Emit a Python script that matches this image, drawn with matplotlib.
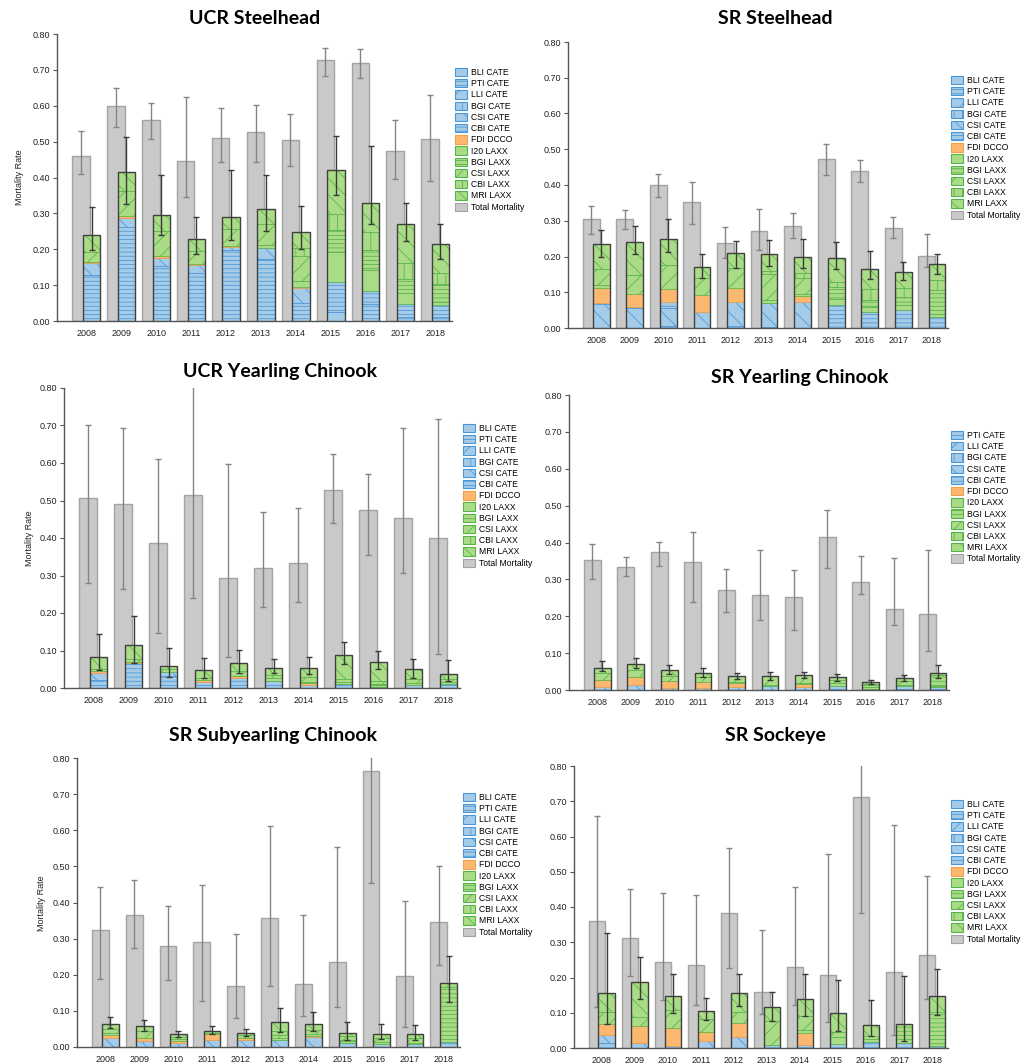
import numpy as np
import matplotlib
matplotlib.use('Agg')
import matplotlib.pyplot as plt
from matplotlib.patches import Patch

plt.rcParams['font.family'] = ['Liberation Sans', 'DejaVu Sans']
plt.rcParams['hatch.linewidth'] = 0.55

W, H = 1022, 1064

years = ['2008', '2009', '2010', '2011', '2012', '2013', '2014', '2015', '2016', '2017', '2018']

# predator / location categories, stacked bottom to top
categories = ['BLI CATE', 'PTI CATE', 'LLI CATE', 'BGI CATE', 'CSI CATE', 'CBI CATE',
              'FDI DCCO', 'I20 LAXX', 'BGI LAXX', 'CSI LAXX', 'CBI LAXX', 'MRI LAXX']

# ---------------- UCR Steelhead ----------------
ucr_sth_total = [0.461, 0.599, 0.559, 0.446, 0.509, 0.526, 0.504, 0.727, 0.720, 0.473, 0.507]
ucr_sth_total_lo = [0.411, 0.542, 0.507, 0.346, 0.442, 0.443, 0.431, 0.684, 0.676, 0.397, 0.390]
ucr_sth_total_hi = [0.530, 0.649, 0.608, 0.623, 0.593, 0.603, 0.578, 0.760, 0.759, 0.559, 0.630]
ucr_sth_parts = {
    'BLI CATE': [0, 0, 0, 0, 0, 0, 0, 0.026, 0, 0, 0],
    'PTI CATE': [0.128, 0.263, 0.153, 0.133, 0.198, 0.173, 0.049, 0.084, 0.046, 0.012, 0.012],
    'CSI CATE': [0.033, 0.023, 0.022, 0.023, 0.007, 0.030, 0.042, 0, 0, 0, 0],
    'CBI CATE': [0, 0, 0, 0, 0, 0, 0, 0, 0.039, 0.035, 0.033],
    'FDI DCCO': [0.004, 0.007, 0.005, 0.004, 0.005, 0, 0.005, 0, 0, 0, 0],
    'I20 LAXX': [0, 0, 0, 0, 0, 0.009, 0.016, 0.081, 0.057, 0.030, 0.009],
    'BGI LAXX': [0, 0, 0, 0, 0, 0, 0, 0.064, 0.056, 0.039, 0.048],
    'CSI LAXX': [0.028, 0.070, 0.071, 0.035, 0.046, 0.059, 0.068, 0, 0, 0, 0],
    'CBI LAXX': [0, 0, 0, 0, 0, 0, 0.024, 0.043, 0.051, 0.045, 0.031],
    'MRI LAXX': [0.048, 0.053, 0.044, 0.034, 0.033, 0.042, 0.044, 0.123, 0.081, 0.109, 0.082],
}
ucr_sth_comp_lo = [0.199, 0.325, 0.241, 0.186, 0.225, 0.251, 0.202, 0.351, 0.270, 0.222, 0.174]
ucr_sth_comp_hi = [0.318, 0.513, 0.407, 0.291, 0.420, 0.407, 0.321, 0.517, 0.488, 0.330, 0.270]

# ---------------- SR Steelhead ----------------
sr_sth_total = [0.306, 0.304, 0.399, 0.353, 0.238, 0.270, 0.286, 0.472, 0.440, 0.279, 0.202]
sr_sth_total_lo = [0.264, 0.276, 0.367, 0.290, 0.197, 0.217, 0.253, 0.427, 0.407, 0.252, 0.171]
sr_sth_total_hi = [0.342, 0.330, 0.432, 0.408, 0.282, 0.334, 0.323, 0.514, 0.470, 0.311, 0.264]
sr_sth_parts = {
    'PTI CATE': [0, 0, 0.005, 0, 0.005, 0.003, 0, 0.064, 0.046, 0.050, 0.030],
    'CSI CATE': [0.067, 0.055, 0.052, 0.046, 0.069, 0.066, 0.074, 0, 0, 0, 0],
    'CBI CATE': [0.004, 0.004, 0.017, 0, 0, 0, 0, 0, 0, 0, 0],
    'FDI DCCO': [0.042, 0.037, 0.034, 0.047, 0.037, 0, 0.016, 0, 0, 0, 0],
    'I20 LAXX': [0.007, 0, 0, 0, 0, 0.008, 0.005, 0.017, 0.012, 0.014, 0.009],
    'BGI LAXX': [0, 0, 0, 0, 0, 0, 0, 0.033, 0.021, 0.023, 0.068],
    'CSI LAXX': [0.044, 0.051, 0.068, 0.047, 0.058, 0.074, 0.044, 0, 0, 0, 0],
    'CBI LAXX': [0, 0, 0, 0, 0, 0.009, 0.016, 0.016, 0.031, 0.025, 0.028],
    'MRI LAXX': [0.071, 0.094, 0.074, 0.030, 0.041, 0.047, 0.044, 0.065, 0.054, 0.045, 0.044],
}
sr_sth_comp_lo = [0.198, 0.206, 0.212, 0.141, 0.169, 0.174, 0.169, 0.165, 0.136, 0.134, 0.150]
sr_sth_comp_hi = [0.274, 0.286, 0.306, 0.207, 0.244, 0.246, 0.249, 0.241, 0.216, 0.185, 0.208]

# ---------------- UCR Yearling Chinook ----------------
ucr_chy_total = [0.506, 0.492, 0.388, 0.514, 0.294, 0.319, 0.334, 0.529, 0.474, 0.454, 0.399]
ucr_chy_total_lo = [0.279, 0.263, 0.148, 0.241, 0.084, 0.216, 0.229, 0.441, 0.355, 0.307, 0.090]
ucr_chy_total_hi = [0.702, 0.694, 0.610, 0.850, 0.598, 0.469, 0.481, 0.623, 0.570, 0.693, 0.718]
ucr_chy_parts = {
    'PTI CATE': [0.022, 0.066, 0.032, 0.016, 0.027, 0.020, 0.009, 0.012, 0.004, 0.008, 0.012],
    'CSI CATE': [0.018, 0, 0.010, 0, 0, 0, 0, 0, 0, 0, 0],
    'FDI DCCO': [0.006, 0.003, 0, 0.005, 0.004, 0, 0.004, 0, 0, 0, 0],
    'I20 LAXX': [0.006, 0, 0, 0, 0, 0.006, 0.004, 0.004, 0.004, 0.005, 0.004],
    'BGI LAXX': [0, 0, 0, 0, 0, 0, 0, 0, 0.004, 0, 0],
    'CSI LAXX': [0, 0.009, 0.008, 0.007, 0.014, 0.009, 0.013, 0.008, 0.006, 0.011, 0.008],
    'MRI LAXX': [0.030, 0.037, 0.008, 0.019, 0.021, 0.019, 0.024, 0.063, 0.052, 0.026, 0.013],
}
ucr_chy_comp_lo = [0.049, 0.067, 0.029, 0.026, 0.040, 0.040, 0.037, 0.063, 0.051, 0.028, 0.020]
ucr_chy_comp_hi = [0.144, 0.191, 0.107, 0.079, 0.102, 0.077, 0.082, 0.124, 0.100, 0.078, 0.075]

# ---------------- SR Yearling Chinook ----------------
sr_chy_total = [0.352, 0.333, 0.374, 0.348, 0.272, 0.257, 0.252, 0.415, 0.294, 0.221, 0.205]
sr_chy_total_lo = [0.300, 0.309, 0.337, 0.240, 0.211, 0.189, 0.163, 0.331, 0.259, 0.175, 0.106]
sr_chy_total_hi = [0.396, 0.361, 0.402, 0.429, 0.329, 0.379, 0.325, 0.489, 0.363, 0.358, 0.380]
sr_chy_parts = {
    'PTI CATE': [0, 0, 0, 0, 0, 0, 0, 0.012, 0.003, 0.010, 0.007],
    'CSI CATE': [0.007, 0.014, 0.006, 0.006, 0.008, 0.010, 0.008, 0, 0, 0, 0],
    'FDI DCCO': [0.021, 0.020, 0.018, 0.015, 0.010, 0, 0.007, 0, 0, 0, 0],
    'I20 LAXX': [0, 0, 0, 0, 0.004, 0.004, 0.004, 0.006, 0.004, 0.004, 0.003],
    'BGI LAXX': [0, 0, 0, 0, 0, 0, 0, 0, 0.010, 0, 0.030],
    'CSI LAXX': [0.017, 0.019, 0.015, 0.013, 0.016, 0.025, 0.023, 0.008, 0.004, 0.011, 0.007],
    'MRI LAXX': [0.016, 0.018, 0.014, 0.013, 0, 0, 0, 0.008, 0, 0.008, 0],
}
sr_chy_comp_lo = [0.052, 0.061, 0.043, 0.034, 0.030, 0.027, 0.033, 0.024, 0.017, 0.024, 0.033]
sr_chy_comp_hi = [0.078, 0.087, 0.068, 0.060, 0.047, 0.050, 0.050, 0.044, 0.027, 0.040, 0.067]

# ---------------- SR Subyearling Chinook ----------------
sr_chs_total = [0.324, 0.366, 0.280, 0.290, 0.169, 0.357, 0.175, 0.234, 0.763, 0.196, 0.347]
sr_chs_total_lo = [0.189, 0.274, 0.185, 0.127, 0.080, 0.169, 0.086, 0.112, 0.454, 0.056, 0.226]
sr_chs_total_hi = [0.444, 0.463, 0.391, 0.448, 0.313, 0.611, 0.366, 0.555, 0.850, 0.403, 0.502]
sr_chs_parts = {
    'PTI CATE': [0, 0, 0, 0, 0, 0, 0, 0.012, 0.008, 0.008, 0.013],
    'CSI CATE': [0.026, 0.017, 0.011, 0.020, 0.020, 0.018, 0.027, 0, 0, 0, 0],
    'FDI DCCO': [0.006, 0.007, 0.006, 0.015, 0.004, 0, 0.003, 0, 0, 0, 0],
    'I20 LAXX': [0.007, 0, 0.005, 0, 0, 0.006, 0.005, 0.004, 0.005, 0.004, 0],
    'BGI LAXX': [0, 0, 0, 0, 0, 0, 0, 0.004, 0, 0, 0.152],
    'CSI LAXX': [0.012, 0.019, 0.006, 0.005, 0.008, 0.010, 0.013, 0.010, 0.012, 0.013, 0.013],
    'CBI LAXX': [0, 0, 0, 0, 0, 0.010, 0, 0, 0, 0, 0],
    'MRI LAXX': [0.014, 0.015, 0.007, 0.004, 0.007, 0.024, 0.017, 0.008, 0.012, 0.012, 0],
}
sr_chs_comp_lo = [0.053, 0.044, 0.028, 0.035, 0.031, 0.041, 0.044, 0.020, 0.021, 0.020, 0.124]
sr_chs_comp_hi = [0.083, 0.075, 0.044, 0.057, 0.050, 0.108, 0.097, 0.068, 0.065, 0.062, 0.252]

# ---------------- SR Sockeye ----------------
sr_sock_total = [0.360, 0.311, 0.243, 0.236, 0.382, 0.159, 0.231, 0.207, 0.712, 0.215, 0.264]
sr_sock_total_lo = [0.117, 0.205, 0.137, 0.123, 0.227, 0.096, 0.123, 0.075, 0.384, 0.038, 0.138]
sr_sock_total_hi = [0.658, 0.451, 0.441, 0.433, 0.566, 0.335, 0.458, 0.549, 0.850, 0.633, 0.489]
sr_sock_parts = {
    'PTI CATE': [0.014, 0, 0.007, 0, 0, 0.008, 0.008, 0.012, 0.017, 0.014, 0.006],
    'CSI CATE': [0.022, 0.014, 0, 0.021, 0.031, 0, 0, 0, 0, 0, 0],
    'FDI DCCO': [0.033, 0.049, 0.051, 0.025, 0.040, 0, 0.035, 0, 0, 0, 0],
    'I20 LAXX': [0, 0, 0, 0, 0, 0, 0.007, 0.019, 0.008, 0, 0],
    'BGI LAXX': [0, 0, 0, 0, 0, 0, 0, 0, 0, 0.055, 0.096],
    'CSI LAXX': [0.033, 0.025, 0.049, 0.037, 0.031, 0.069, 0.040, 0.015, 0.010, 0, 0],
    'MRI LAXX': [0.055, 0.100, 0.040, 0.023, 0.055, 0.038, 0.050, 0.052, 0.031, 0, 0.045],
}
sr_sock_comp_lo = [0.069, 0.139, 0.100, 0.079, 0.118, 0.077, 0.090, 0.047, 0.034, 0.019, 0.094]
sr_sock_comp_hi = [0.325, 0.257, 0.211, 0.141, 0.211, 0.159, 0.210, 0.192, 0.136, 0.204, 0.225]

# fill, hatch colour, hatch pattern
blue, blue_h = '#a4cce8', '#4a95d6'
green, green_h = '#aadc88', '#56b244'
styles = {
    'BLI CATE': (blue, blue_h, None),
    'PTI CATE': (blue, blue_h, '----'),
    'LLI CATE': (blue, blue_h, '//'),
    'BGI CATE': (blue, blue_h, '||'),
    'CSI CATE': (blue, blue_h, '\\\\'),
    'CBI CATE': (blue, blue_h, '----'),
    'FDI DCCO': ('#fdb870', '#f0a04a', None),
    'I20 LAXX': (green, green_h, None),
    'BGI LAXX': (green, green_h, '----'),
    'CSI LAXX': (green, green_h, '//'),
    'CBI LAXX': (green, green_h, '||'),
    'MRI LAXX': (green, green_h, '\\\\'),
}
grey, grey_edge = '#c9c9c9', '#a3a3a3'


def px_box(x0, y0, x1, y1):
    # pixel box (left, top, right, bottom) -> figure fraction rect
    return [x0 / W, 1 - y1 / H, (x1 - x0) / W, (y1 - y0) / H]


def draw_panel(ax, total, t_lo, t_hi, parts, c_lo, c_hi):
    x = np.arange(len(years))
    total = np.array(total)
    ax.bar(x - 0.15, total, 0.5, color=grey, edgecolor=grey_edge, lw=1, zorder=1)
    ax.errorbar(x - 0.15, total, yerr=[total - np.array(t_lo), np.array(t_hi) - total],
                fmt='none', ecolor='#858585', elinewidth=1, capsize=2.5, capthick=1, zorder=2)
    bottom = np.zeros(len(x))
    for name in categories:
        if name not in parts:
            continue
        vals = np.array(parts[name])
        face, hcol, hatch = styles[name]
        m = vals > 0
        ax.bar(x[m] + 0.15, vals[m], 0.5, bottom=bottom[m], color=face, edgecolor=hcol,
               hatch=hatch, lw=0.5, zorder=3)
        bottom += vals
    ax.bar(x + 0.15, bottom, 0.5, fill=False, edgecolor='#404040', lw=1, zorder=4)
    ax.errorbar(x + 0.15, bottom, yerr=[bottom - np.array(c_lo), np.array(c_hi) - bottom],
                fmt='none', ecolor='#3a3a3a', elinewidth=1, capsize=2.5, capthick=1, zorder=5)

    ax.set_xlim(-0.84, 10.48)
    ax.set_ylim(0, 0.8)
    ax.set_xticks(x)
    ax.set_xticklabels(years)
    ax.set_yticks(np.arange(0, 0.81, 0.1))
    ax.set_yticklabels(['%.2f' % v for v in np.arange(0, 0.81, 0.1)])
    ax.tick_params(axis='x', length=0, pad=6, labelsize=6.5, colors='#222222')
    ax.tick_params(axis='y', length=3, width=0.8, pad=2, labelsize=6.5, colors='#555555',
                   labelcolor='#222222')
    for s in ['top', 'right']:
        ax.spines[s].set_visible(False)
    for s in ['left', 'bottom']:
        ax.spines[s].set_color('#555555')
        ax.spines[s].set_linewidth(1)


def add_legend(fig, px, py, show_bli=True):
    handles, labels = [], []
    for name in categories:
        if name == 'BLI CATE' and not show_bli:
            continue
        face, hcol, hatch = styles[name]
        handles.append(Patch(facecolor=face, edgecolor=hcol, hatch=hatch, lw=0.8))
        labels.append(name)
    handles.append(Patch(facecolor=grey, edgecolor=grey_edge, lw=0.8))
    labels.append('Total Mortality')
    fig.legend(handles, labels, loc='upper left', bbox_to_anchor=(px / W, 1 - py / H),
               frameon=False, fontsize=6.2, handlelength=1.45, handleheight=1.1,
               labelspacing=0.25, handletextpad=0.45, borderpad=0, borderaxespad=0)


fig = plt.figure(figsize=(W / 100, H / 100), dpi=100)

panels = [
    ('UCR Steelhead', (57, 34, 452, 321), (255, 18), (455, 68), True, (20, 177),
     ucr_sth_total, ucr_sth_total_lo, ucr_sth_total_hi, ucr_sth_parts, ucr_sth_comp_lo, ucr_sth_comp_hi),
    ('SR Steelhead', (568, 42, 948, 328), (775, 18), (951, 76), True, None,
     sr_sth_total, sr_sth_total_lo, sr_sth_total_hi, sr_sth_parts, sr_sth_comp_lo, sr_sth_comp_hi),
    ('UCR Yearling Chinook', (64, 388, 460, 688), (280, 372), (463, 424), True, (29, 538),
     ucr_chy_total, ucr_chy_total_lo, ucr_chy_total_hi, ucr_chy_parts, ucr_chy_comp_lo, ucr_chy_comp_hi),
    ('SR Yearling Chinook', (569, 395, 949, 690), (800, 377), (951, 431), False, None,
     sr_chy_total, sr_chy_total_lo, sr_chy_total_hi, sr_chy_parts, sr_chy_comp_lo, sr_chy_comp_hi),
    ('SR Subyearling Chinook', (77, 758, 460, 1047), (273, 736), (463, 793), True, (42, 903),
     sr_chs_total, sr_chs_total_lo, sr_chs_total_hi, sr_chs_parts, sr_chs_comp_lo, sr_chs_comp_hi),
    ('SR Sockeye', (574, 766, 948, 1048), (775, 736), (951, 800), True, None,
     sr_sock_total, sr_sock_total_lo, sr_sock_total_hi, sr_sock_parts, sr_sock_comp_lo, sr_sock_comp_hi),
]

for title, box, tpos, lpos, show_bli, ylab, *vals in panels:
    ax = fig.add_axes(px_box(*box))
    draw_panel(ax, *vals)
    fig.text(tpos[0] / W, 1 - tpos[1] / H, title, ha='center', va='center',
             fontsize=14, fontweight='bold', family=['Lato', 'DejaVu Sans'])
    add_legend(fig, lpos[0], lpos[1], show_bli)
    if ylab:
        fig.text(ylab[0] / W, 1 - ylab[1] / H, 'Mortality Rate', rotation=90,
                 ha='center', va='center', fontsize=6.5, color='#222222')

fig.savefig('out.png', dpi=100)
